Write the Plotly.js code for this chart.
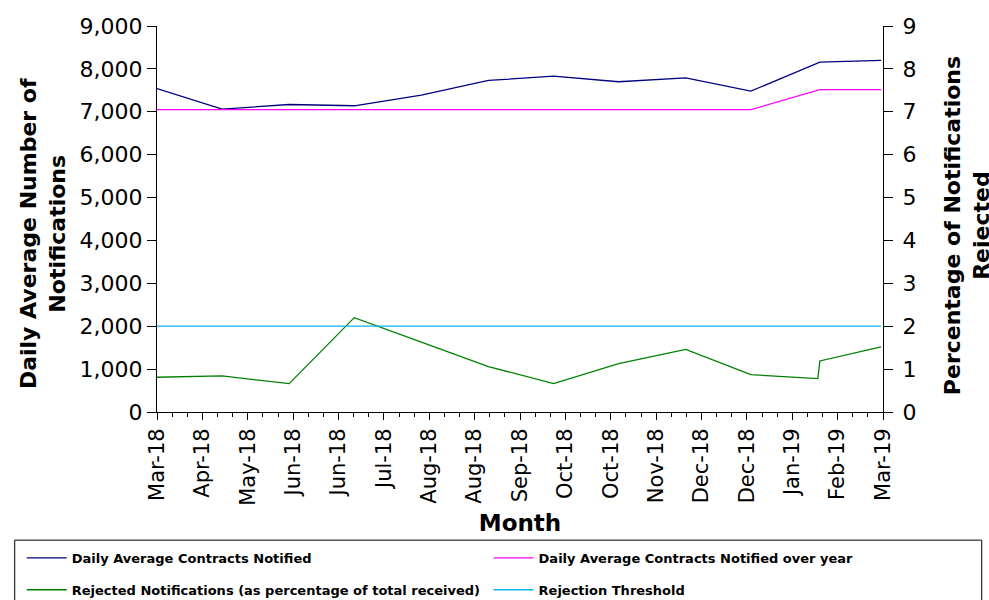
<!DOCTYPE html>
<html>
<head>
<meta charset="utf-8">
<script src="https://cdn.plot.ly/plotly-3.0.1.min.js"></script>
<style>
  html, body { margin: 0; padding: 0; background: #fff; }
  #chart { width: 989px; height: 600px; }
</style>
</head>
<body>
<div id="chart"></div>
<script>
// x positions are days from the start of the axis (Mar-18)
var tickLabels = ['Mar-18', 'Apr-18', 'May-18', 'Jun-18', 'Jun-18', 'Jul-18', 'Aug-18', 'Aug-18',
  'Sep-18', 'Oct-18', 'Oct-18', 'Nov-18', 'Dec-18', 'Dec-18', 'Jan-19', 'Feb-19', 'Mar-19'];
var tickStep = 23;

var monthDays = [0, 33, 67, 100, 134, 168, 201, 234, 268, 301, 336, 367];
var contractsNotified = [7540, 7060, 7170, 7140, 7390, 7730, 7830, 7700, 7790, 7480, 8160, 8200];
var contractsOverYear = [7050, 7050, 7050, 7050, 7050, 7050, 7050, 7050, 7050, 7050, 7515, 7515];

var rejectedDays = [0, 33, 67, 100, 134, 168, 201, 234, 268, 301, 335, 336, 367];
var rejectedPct = [0.81, 0.84, 0.66, 2.20, 1.63, 1.06, 0.66, 1.13, 1.46, 0.87, 0.78, 1.19, 1.52];

var thresholdDays = [0, 367];
var rejectionThreshold = [2, 2];

var font = 'DejaVu Sans, Verdana, sans-serif';

var data = [
  {
    x: monthDays, y: contractsNotified, name: 'Daily Average Contracts Notified',
    mode: 'lines', line: {color: '#000080', width: 1.3}, legend: 'legend'
  },
  {
    x: monthDays, y: contractsOverYear, name: 'Daily Average Contracts Notified over year',
    mode: 'lines', line: {color: '#FF00FF', width: 1.3}, legend: 'legend2'
  },
  {
    x: rejectedDays, y: rejectedPct, name: 'Rejected Notifications (as percentage of total received)',
    mode: 'lines', yaxis: 'y2', line: {color: '#008000', width: 1.3}, legend: 'legend3'
  },
  {
    x: thresholdDays, y: rejectionThreshold, name: 'Rejection Threshold',
    mode: 'lines', yaxis: 'y2', line: {color: '#00B4F0', width: 1.3}, legend: 'legend4'
  }
];

// one legend per entry so the 2x2 grid can be placed like the original
function legendAt(x, y) {
  return {
    xref: 'container', yref: 'container',
    xanchor: 'left', yanchor: 'top',
    x: x, y: y,
    itemwidth: 40,
    bgcolor: 'rgba(0,0,0,0)',
    font: {family: font, size: 13, color: '#000', weight: 'bold'}
  };
}

// y titles as rotated annotations (placed like the original's)
function sideTitle(text, x, y) {
  return {
    text: text, xref: 'paper', yref: 'paper', x: x, y: y,
    xanchor: 'center', yanchor: 'middle', textangle: -90,
    showarrow: false, align: 'center',
    font: {family: font, size: 22, weight: 'bold', color: '#000'}
  };
}

var layout = {
  width: 989, height: 600,
  margin: {l: 157, r: 106, t: 26, b: 188, autoexpand: false},
  paper_bgcolor: '#fff', plot_bgcolor: '#fff',
  font: {family: font, color: '#000'},
  showlegend: true,
  legend: legendAt(0.022, 0.095),
  legend2: legendAt(0.494, 0.095),
  legend3: legendAt(0.022, 0.042),
  legend4: legendAt(0.494, 0.042),
  xaxis: {
    range: [0, 368],
    tickmode: 'array',
    tickvals: tickLabels.map(function (t, i) { return i * tickStep; }),
    ticktext: tickLabels,
    tickangle: -90,
    tickfont: {family: font, size: 21},
    ticks: 'outside', ticklen: 7, tickcolor: '#000',
    minor: {tickmode: 'linear', tick0: 0, dtick: tickStep / 3, ticks: 'outside', ticklen: 4, tickcolor: '#000'},
    showline: true, linecolor: '#000', linewidth: 1,
    showgrid: false, zeroline: false,
    title: {text: 'Month', font: {family: font, size: 23, weight: 'bold'}, standoff: 10}
  },
  yaxis: {
    range: [0, 9000], dtick: 1000, tickformat: ',d',
    tickfont: {family: font, size: 22},
    ticks: 'outside', ticklen: 9, tickcolor: '#000',
    showline: true, linecolor: '#000', linewidth: 1,
    showgrid: false, zeroline: false
  },
  yaxis2: {
    overlaying: 'y', side: 'right',
    range: [0, 9], dtick: 1,
    tickfont: {family: font, size: 22},
    ticks: 'outside', ticklen: 9, tickcolor: '#000', ticklabelstandoff: 5,
    showline: true, linecolor: '#000', linewidth: 1,
    showgrid: false, zeroline: false
  },
  annotations: [
    sideTitle('Daily Average Number of<br>Notifications', -0.157, 0.461),
    sideTitle('Percentage of Notifications<br>Rejected', 1.116, 0.482)
  ],
  shapes: [{
    type: 'rect', xref: 'paper', yref: 'paper',
    x0: -0.196, x1: 1.136, y0: -0.332, y1: -0.55,
    line: {color: '#000', width: 1}, fillcolor: 'rgba(0,0,0,0)'
  }]
};

Plotly.newPlot('chart', data, layout, {displayModeBar: false, staticPlot: true});
</script>
</body>
</html>
